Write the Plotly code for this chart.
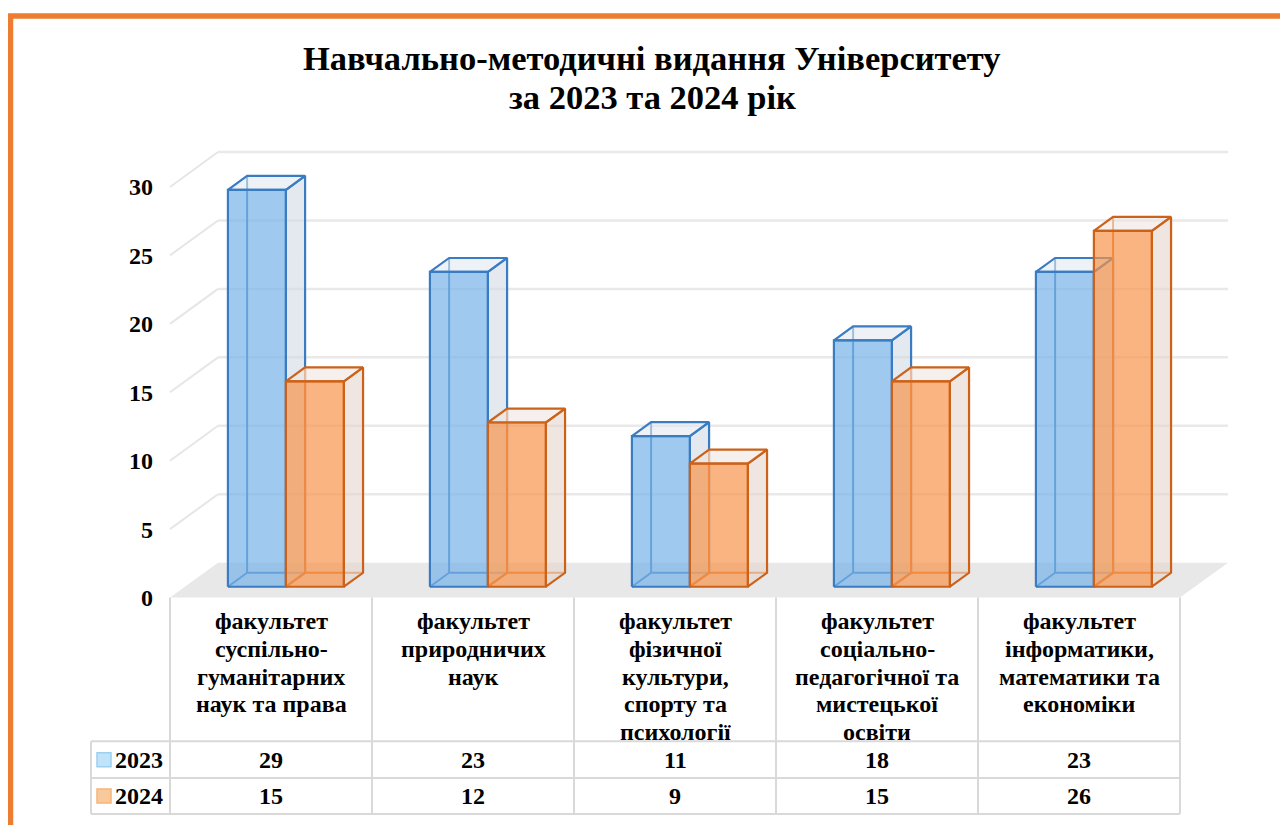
import plotly.graph_objects as go

# Дані
categories = [
    "факультет<br>суспільно-<br>гуманітарних<br>наук та права",
    "факультет<br>природничих<br>наук",
    "факультет<br>фізичної<br>культури,<br>спорту та<br>психології",
    "факультет<br>соціально-<br>педагогічної та<br>мистецької<br>освіти",
    "факультет<br>інформатики,<br>математики та<br>економіки",
]
series_names = ["2023", "2024"]
values_2023 = [29, 23, 11, 18, 23]
values_2024 = [15, 12, 9, 15, 26]
y_ticks = [0, 5, 10, 15, 20, 25, 30]
title_lines = ["Навчально-методичні видання Університету", "за 2023 та 2024 рік"]

# Сторінка має відступ body 8px, тому фігура трохи менша за вікно
OFF = 8
W_PX, H_PX = 1288 - OFF, 825 - OFF
X0_PX, COL_PX = 170, 202        # ліва межа першої категорії, ширина категорії
Y0_PX, UNIT_PX = 599, 13.72     # нуль на передньому краї підлоги, пікселів на одиницю
DX, DY = 48 / COL_PX, 35 / UNIT_PX   # зсув у глибину на всю підлогу
BAR_W = 0.287
D_FRONT, D_BACK = 0.31, 0.71

FONT = "Liberation Serif"
TXT = 24

styles = [
    dict(front="rgba(119,178,232,0.7)", side="rgba(208,218,228,0.6)",
         top="rgba(227,233,240,0.6)", edge="#3A7CC2", hidden="#3A7CC2",
         key="#BFE3F8", key_line="#9CD0F0"),
    dict(front="rgba(246,148,76,0.7)", side="rgba(228,213,207,0.6)",
         top="rgba(238,230,225,0.6)", edge="#CC6119", hidden="#E8731F",
         key="#F9C99C", key_line="#F5B57A"),
]


def P(x, v, d):
    return x + DX * d, v + DY * d


def px(x):
    return (x - OFF) / W_PX


def py(y):
    return 1 - (y - OFF) / H_PX


def poly(points, fill, edge, width=2.2, closed=True):
    pts = list(points) + ([points[0]] if closed else [])
    return go.Scatter(
        x=[p[0] for p in pts], y=[p[1] for p in pts], mode="lines",
        fill="toself" if fill else None, fillcolor=fill,
        line=dict(color=edge, width=width), hoverinfo="skip", showlegend=False,
    )


fig = go.Figure()

# Підлога
n = len(categories)
floor = [P(-0.5, 0, 0), P(n - 0.5, 0, 0), P(n - 0.5, 0, 1), P(-0.5, 0, 1)]
fig.add_trace(poly(floor, "#E8E8E8", "rgba(0,0,0,0)", width=0))

# Лінії сітки на бічній та задній стінках
for v in y_ticks[1:]:
    side = [P(-0.5, v, 0), P(-0.5, v, 1)]
    back = [P(-0.5, v, 1), P(n - 0.5, v, 1)]
    fig.add_trace(poly(side, None, "#E6E6E6", width=2, closed=False))
    fig.add_trace(poly(back, None, "#E9E9E9", width=2.5, closed=False))

# Стовпчики
all_values = [values_2023, values_2024]
for i in range(n):
    for s, vals in enumerate(all_values):
        h = vals[i]
        st = styles[s]
        x0 = i - BAR_W + s * BAR_W
        x1 = x0 + BAR_W
        hidden = [P(x0, 0, D_FRONT), P(x0, 0, D_BACK), P(x1, 0, D_BACK),
                  P(x0, 0, D_BACK), P(x0, h, D_BACK)]
        fig.add_trace(poly(hidden, None, st["hidden"], width=2, closed=False))
        side = [P(x1, 0, D_FRONT), P(x1, 0, D_BACK), P(x1, h, D_BACK), P(x1, h, D_FRONT)]
        fig.add_trace(poly(side, st["side"], st["edge"]))
        top = [P(x0, h, D_FRONT), P(x1, h, D_FRONT), P(x1, h, D_BACK), P(x0, h, D_BACK)]
        fig.add_trace(poly(top, st["top"], st["edge"]))
        front = [P(x0, 0, D_FRONT), P(x1, 0, D_FRONT), P(x1, h, D_FRONT), P(x0, h, D_FRONT)]
        fig.add_trace(poly(front, st["front"], st["edge"]))

# Осі: область побудови розміщена у пікселях
x_range = [-0.55, 4.8]
y_range = [-0.8, 33.5]
x_dom = [px(X0_PX + (x_range[0] + 0.5) * COL_PX), px(X0_PX + (x_range[1] + 0.5) * COL_PX)]
y_dom = [py(Y0_PX - y_range[0] * UNIT_PX), py(Y0_PX - y_range[1] * UNIT_PX)]

fig.update_xaxes(range=x_range, domain=x_dom, visible=False, fixedrange=True)
fig.update_yaxes(
    range=y_range, domain=y_dom, showgrid=False, zeroline=False, showline=False,
    tickvals=y_ticks, ticktext=[f"<b>{t}</b>" for t in y_ticks],
    tickfont=dict(family=FONT, size=TXT, color="#000000"),
    ticklabelstandoff=6, fixedrange=True,
)

shapes = []
annotations = []

# Помаранчева рамка
shapes.append(dict(type="rect", xref="paper", yref="paper",
                   x0=px(10.5), x1=px(1320), y0=py(16), y1=py(860),
                   line=dict(color="#ED7D31", width=5.5), fillcolor="rgba(0,0,0,0)"))

# Таблиця даних
GRID = "#D9D9D9"
T_TOP, T_HEAD, T_ROW1, T_BOT = 599, 743, 780, 816
T_LEFT = 91
for k in range(n + 1):
    xk = px(X0_PX + k * COL_PX)
    shapes.append(dict(type="line", xref="paper", yref="paper", x0=xk, x1=xk,
                       y0=py(T_TOP), y1=py(T_BOT), line=dict(color=GRID, width=2)))
for yy in [T_HEAD, T_ROW1, T_BOT]:
    shapes.append(dict(type="line", xref="paper", yref="paper",
                       x0=px(T_LEFT), x1=px(X0_PX + n * COL_PX),
                       y0=py(yy), y1=py(yy), line=dict(color=GRID, width=2)))
shapes.append(dict(type="line", xref="paper", yref="paper", x0=px(T_LEFT), x1=px(T_LEFT),
                   y0=py(T_HEAD), y1=py(T_BOT), line=dict(color=GRID, width=2)))

# Заголовки категорій (по рядку)
LINE_H = 27.6
for i, cat in enumerate(categories):
    cx = px(X0_PX + (i + 0.5) * COL_PX)
    for j, line in enumerate(cat.split("<br>")):
        annotations.append(dict(
            x=cx, y=py(623 + j * LINE_H), xref="paper", yref="paper",
            text=f"<b>{line}</b>", showarrow=False, xanchor="center", yanchor="middle",
            font=dict(family=FONT, size=TXT, color="#000000"),
        ))

# Рядки зі значеннями
row_centers = [(T_HEAD + T_ROW1) / 2, (T_ROW1 + T_BOT) / 2]
for s, vals in enumerate(all_values):
    yc = row_centers[s]
    shapes.append(dict(type="rect", xref="paper", yref="paper",
                       x0=px(97), x1=px(111), y0=py(yc - 7), y1=py(yc + 7),
                       fillcolor=styles[s]["key"], line=dict(color=styles[s]["key_line"], width=1.5)))
    annotations.append(dict(
        x=px(165), y=py(yc), xref="paper", yref="paper", text=f"<b>{series_names[s]}</b>",
        showarrow=False, xanchor="right", yanchor="middle",
        font=dict(family=FONT, size=TXT, color="#000000"),
    ))
    for i, v in enumerate(vals):
        annotations.append(dict(
            x=px(X0_PX + (i + 0.5) * COL_PX), y=py(yc), xref="paper", yref="paper",
            text=f"<b>{v}</b>", showarrow=False, xanchor="center", yanchor="middle",
            font=dict(family=FONT, size=TXT, color="#000000"),
        ))

# Заголовок
for j, line in enumerate(title_lines):
    annotations.append(dict(
        x=px(652), y=py(58 + j * 39), xref="paper", yref="paper", text=f"<b>{line}</b>",
        showarrow=False, xanchor="center", yanchor="middle",
        font=dict(family=FONT, size=34.5, color="#000000"),
    ))

fig.update_layout(
    width=W_PX, height=H_PX,
    margin=dict(l=0, r=0, t=0, b=0),
    paper_bgcolor="#FFFFFF", plot_bgcolor="rgba(0,0,0,0)",
    showlegend=False, shapes=shapes, annotations=annotations,
)

fig.write_html("out.html")
